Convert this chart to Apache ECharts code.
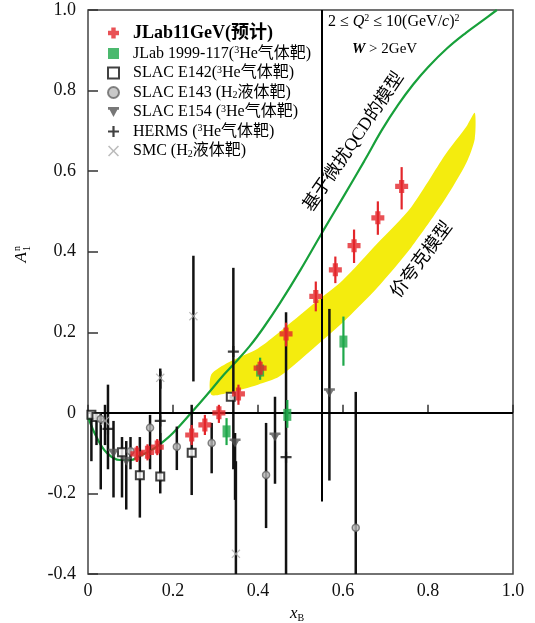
<!DOCTYPE html>
<html>
<head>
<meta charset="utf-8">
<script src="https://cdn.jsdelivr.net/npm/echarts@6/dist/echarts.min.js"></script>
<style>
  html, body { margin: 0; padding: 0; background: #fff; }
  #chart { width: 535px; height: 623px; }
</style>
</head>
<body>
<div id="chart"></div>
<script>
// every row: [x_B, A1n, error bar low, error bar high]
var jlab11 = [
  [0.115, -0.102, -0.082, -0.122], [0.14, -0.098, -0.078, -0.118], [0.163, -0.085, -0.065, -0.105],
  [0.244, -0.055, -0.03, -0.08], [0.275, -0.03, -0.005, -0.055], [0.308, 0.0, 0.02, -0.025],
  [0.354, 0.047, 0.07, 0.02], [0.405, 0.111, 0.13, 0.09], [0.466, 0.196, 0.224, 0.165],
  [0.536, 0.289, 0.326, 0.252], [0.582, 0.355, 0.388, 0.322], [0.626, 0.415, 0.455, 0.372],
  [0.682, 0.484, 0.525, 0.442], [0.738, 0.562, 0.61, 0.505]
];
var jlab99 = [
  [0.326, -0.046, -0.013, -0.08], [0.405, 0.105, 0.137, 0.082],
  [0.469, -0.005, 0.032, -0.037], [0.601, 0.177, 0.239, 0.117]
];
var e142 = [
  [0.008, -0.005, 0.0, -0.12], [0.02, -0.01, 0.0, -0.08], [0.08, -0.098, -0.06, -0.21],
  [0.122, -0.155, -0.06, -0.26], [0.17, -0.158, -0.05, -0.2], [0.244, -0.099, 0.02, -0.204],
  [0.336, 0.04, 0.045, 0.035]
];
var e143 = [
  [0.03, -0.015, 0.0, -0.19], [0.1, -0.095, -0.06, -0.14], [0.146, -0.037, -0.005, -0.14],
  [0.209, -0.084, -0.034, -0.142], [0.291, -0.075, -0.025, -0.15], [0.419, -0.154, -0.025, -0.286],
  [0.63, -0.285, 0.052, -0.4]
];
var e154 = [
  [0.06, -0.1, -0.02, -0.21], [0.09, -0.12, -0.07, -0.24], [0.346, -0.075, -0.05, -0.216],
  [0.44, -0.06, 0.04, -0.176], [0.568, 0.05, 0.258, -0.168]
];
var herms = [
  [0.047, -0.04, 0.07, -0.14], [0.17, -0.02, 0.103, -0.17],
  [0.342, 0.152, 0.36, -0.14], [0.466, -0.11, 0.25, -0.4]
];
var smc = [
  [0.04, -0.02, 0.02, -0.08], [0.17, 0.087, 0.11, 0.06], [0.248, 0.24, 0.39, 0.078],
  [0.348, -0.35, -0.12, -0.4]
];
// long vertical line at x = 0.55 : [x, top, bottom]
var longBar = [0.55, 1.0, -0.22];

// pQCD based model curve
var qcdX = [0, 0.02, 0.045, 0.075, 0.1, 0.12, 0.15, 0.175, 0.2, 0.247, 0.28, 0.32, 0.342, 0.38,
  0.412, 0.452, 0.5, 0.55, 0.6, 0.65, 0.692, 0.73, 0.765, 0.8, 0.845, 0.89, 0.93, 0.962];
var qcdY = [-0.01, -0.06, -0.1, -0.117, -0.117, -0.108, -0.092, -0.073, -0.05, 0.005, 0.045, 0.095,
  0.12, 0.165, 0.21, 0.273, 0.355, 0.446, 0.535, 0.625, 0.703, 0.765, 0.815, 0.858, 0.905, 0.944, 0.975, 1.0];

// valence quark model band
var bandX  = [0.29, 0.33, 0.40, 0.45, 0.53, 0.60, 0.68, 0.76, 0.84, 0.89, 0.91];
var bandLo = [0.045, 0.05, 0.07, 0.09, 0.16, 0.225, 0.31, 0.41, 0.53, 0.62, 0.68];
var bandHi = [0.095, 0.125, 0.16, 0.2, 0.27, 0.33, 0.42, 0.51, 0.64, 0.71, 0.745];

var names = ['JLab11GeV(预计)', 'JLab 1999-117(³He气体靶)', 'SLAC E142(³He气体靶)',
  'SLAC E143 (H₂液体靶)', 'SLAC E154 (³He气体靶)', 'HERMS (³He气体靶)', 'SMC (H₂液体靶)'];

var serif = '"Liberation Serif", "Noto Sans CJK SC", serif';
var chart = echarts.init(document.getElementById('chart'));

function errBars(rows, color, width, z) {
  return {
    type: 'custom', silent: true, clip: true, z: z,
    data: rows.map(function (r) { return [r[0], r[2], r[3]]; }),
    encode: { x: 0, y: [1, 2] },
    renderItem: function (params, api) {
      var a = api.coord([api.value(0), api.value(1)]);
      var b = api.coord([api.value(0), api.value(2)]);
      return { type: 'line', shape: { x1: a[0], y1: a[1], x2: b[0], y2: b[1] },
        style: { stroke: color, lineWidth: width } };
    }
  };
}
function marks(name, rows, symbol, size, style, z) {
  return {
    name: name, type: 'scatter', silent: true, z: z,
    data: rows.map(function (r) { return [r[0], r[1]]; }),
    symbol: symbol, symbolSize: size, itemStyle: style
  };
}

var plusPath = 'path://M3,0H7V3H10V7H7V10H3V7H0V3H3Z';
var thinPlus = 'path://M0,4H10V6H0Z M4,0H6V10H4Z';
var crossPath = 'path://M0,1L1,0L5,4L9,0L10,1L6,5L10,9L9,10L5,6L1,10L0,9L4,5Z';
var triPath = 'path://M0,0H10V2.5H0Z M1.5,2.5H8.5L5,9Z';

var option = {
  animation: false,
  grid: { left: 88, right: 22, top: 10, bottom: 49, show: true, borderColor: '#444', borderWidth: 1.5 },
  xAxis: {
    type: 'value', min: 0, max: 1, interval: 0.2,
    axisLine: { show: false },
    axisTick: { inside: true, length: 8, lineStyle: { color: '#333', width: 1.5 } },
    splitLine: { show: false },
    axisLabel: { margin: 8, color: '#111', fontFamily: serif, fontSize: 18,
      formatter: function (v) { return Math.abs(v) < 1e-9 ? '0' : v.toFixed(1); } }
  },
  yAxis: {
    type: 'value', min: -0.4, max: 1.0, interval: 0.2,
    axisLine: { show: false },
    axisTick: { inside: true, length: 10, lineStyle: { color: '#333', width: 1.5 } },
    splitLine: { show: false },
    axisLabel: { margin: 12, color: '#111', fontFamily: serif, fontSize: 18,
      formatter: function (v) { return Math.abs(v) < 1e-9 ? '0' : v.toFixed(1); } }
  },
  legend: {
    orient: 'vertical', left: 102, top: 19, itemWidth: 11, itemHeight: 11, itemGap: 3.5,
    selectedMode: false, data: names,
    textStyle: { fontFamily: serif, fontSize: 16, color: '#000', lineHeight: 16, padding: [0, 0, 0, 9],
      rich: {
        s: { fontFamily: serif, fontSize: 10, verticalAlign: 'top', lineHeight: 16 },
        b: { fontFamily: serif, fontSize: 10, verticalAlign: 'bottom', lineHeight: 16 },
        big: { fontFamily: serif, fontSize: 18, fontWeight: 'bold', lineHeight: 18 }
      } },
    formatter: function (n) {
      if (n === names[0]) return '{big|' + n + '}';
      return n.replace('³', '{s|3}').replace('₂', '{b|2}');
    }
  },
  graphic: [
    { type: 'text', left: 328, top: 13, style: {
      text: '2 ≤ {i|Q}{s|2} ≤ 10(GeV/{i|c}){s|2}', fill: '#000',
      font: '16px ' + serif,
      rich: { i: { fontStyle: 'italic', fontFamily: serif, fontSize: 16 },
        s: { fontFamily: serif, fontSize: 10, verticalAlign: 'top', lineHeight: 17 } } } },
    { type: 'text', left: 352, top: 42, style: {
      text: '{i|W} > 2GeV', fill: '#000', font: '15px ' + serif,
      rich: { i: { fontStyle: 'italic', fontWeight: 'bold', fontFamily: serif, fontSize: 15 } } } },
    { type: 'text', x: 354, y: 142, rotation: 0.972, style: {
      text: '基于微扰QCD的模型', fill: '#000', font: '18px ' + serif, align: 'center', verticalAlign: 'middle' } },
    { type: 'text', x: 422, y: 260, rotation: 0.925, style: {
      text: '价夸克模型', fill: '#000', font: '18px ' + serif, align: 'center', verticalAlign: 'middle' } },
    { type: 'group', x: 22, y: 252, rotation: Math.PI / 2, children: [
      { type: 'text', x: 0, y: 0, style: { text: 'A', fill: '#000', font: 'italic 17px ' + serif, align: 'right', verticalAlign: 'middle' } },
      { type: 'text', x: 1, y: -5, style: { text: 'n', fill: '#000', font: '10px ' + serif, align: 'left', verticalAlign: 'middle' } },
      { type: 'text', x: 1, y: 5, style: { text: '1', fill: '#000', font: '10px ' + serif, align: 'left', verticalAlign: 'middle' } }
    ] },
    { type: 'text', x: 297, y: 614, style: {
      text: '{i|x}{b|B}', fill: '#000', align: 'center', verticalAlign: 'middle',
      rich: { i: { fontStyle: 'italic', fontFamily: serif, fontSize: 17, lineHeight: 18 },
        b: { fontFamily: serif, fontSize: 10, verticalAlign: 'bottom', lineHeight: 18 } } } }
  ],
  series: [
    {
      type: 'custom', silent: true, z: 1,
      data: bandX.map(function (x, i) { return [x, bandLo[i], bandHi[i]]; }),
      encode: { x: 0, y: [1, 2] },
      renderItem: function (params, api) {
        if (params.dataIndex !== 0) return;
        var pts = [], i;
        for (i = 0; i < bandX.length; i++) pts.push(api.coord([bandX[i], bandHi[i]]));
        for (i = bandX.length - 1; i >= 0; i--) pts.push(api.coord([bandX[i], bandLo[i]]));
        return { type: 'polygon', shape: { points: pts, smooth: 0.25 }, style: { fill: '#f4ec0e' } };
      }
    },
    {
      type: 'line', silent: true, z: 3, smooth: 0.4, showSymbol: false,
      data: qcdX.map(function (x, i) { return [x, qcdY[i]]; }),
      lineStyle: { color: '#17a03a', width: 2.2 },
      markLine: {
        silent: true, symbol: 'none', label: { show: false },
        lineStyle: { color: '#000', width: 2, type: 'solid' },
        data: [
          { yAxis: 0 },
          [{ coord: [longBar[0], longBar[1]] }, { coord: [longBar[0], longBar[2]] }]
        ]
      }
    },
    errBars(e142, '#111', 2.5, 4),
    errBars(e143, '#111', 2.5, 4),
    errBars(e154, '#111', 2.5, 4),
    errBars(herms, '#111', 2.5, 4),
    errBars(smc, '#111', 2.5, 4),
    errBars(jlab99, '#1ea84a', 2.2, 6),
    errBars(jlab11, '#e3262b', 2.2, 6),
    marks(names[2], e142, 'rect', 8, { color: '#fff', borderColor: '#111', borderWidth: 2 }, 5),
    marks(names[3], e143, 'circle', 7, { color: '#bbb', borderColor: '#666', borderWidth: 1.5 }, 5),
    marks(names[4], e154, triPath, [11, 9], { color: '#555' }, 5),
    marks(names[5], herms, thinPlus, 11, { color: '#111' }, 5),
    marks(names[6], smc, crossPath, 9, { color: '#aaa' }, 5),
    marks(names[1], jlab99, 'rect', [8, 12], { color: '#1ea84a' }, 7),
    marks(names[0], jlab11, plusPath, 13, { color: '#e3262b' }, 7)
  ]
};
chart.setOption(option);
</script>
</body>
</html>
